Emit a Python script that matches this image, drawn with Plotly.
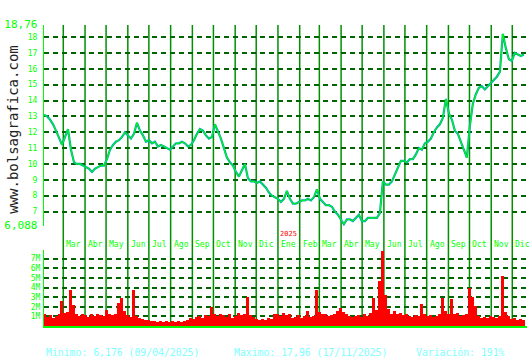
import numpy as np
import pandas as pd
import plotly.graph_objects as go

# ---------------- data ----------------
price = [
    13.1, 13.0, 12.8, 12.5, 12.1, 11.7, 11.2, 11.7, 12.2, 10.9,
    10.1, 10.0, 10.0, 9.9, 9.8, 9.7, 9.5, 9.7, 9.8, 9.9,
    9.9, 10.3, 10.9, 11.2, 11.4, 11.5, 11.7, 12.0, 11.8, 11.6,
    11.9, 12.6, 12.1, 11.8, 11.4, 11.5, 11.3, 11.4, 11.1, 11.2,
    11.1, 11.0, 10.9, 11.1, 11.3, 11.3, 11.4, 11.3, 11.1, 11.2,
    11.5, 11.9, 12.2, 12.1, 11.8, 11.6, 11.7, 12.5, 12.1, 11.6,
    11.0, 10.4, 10.1, 9.9, 9.5, 9.2, 9.6, 10.0, 9.1, 8.9,
    8.9, 8.8, 8.9, 8.7, 8.5, 8.2, 8.0, 7.9, 7.8, 7.6,
    7.8, 8.3, 7.8, 7.5, 7.5, 7.6, 7.7, 7.7, 7.8, 7.7,
    7.9, 8.4, 7.8, 7.6, 7.4, 7.4, 7.3, 7.0, 6.8, 6.5,
    6.2, 6.5, 6.5, 6.4, 6.6, 6.8, 6.4, 6.4, 6.6, 6.6,
    6.6, 6.6, 6.9, 8.9, 8.7, 8.7, 8.9, 9.3, 9.8, 10.2,
    10.2, 10.1, 10.3, 10.3, 10.6, 11.0, 10.9, 11.3, 11.4, 11.6,
    12.0, 12.3, 12.5, 12.9, 14.1, 13.2, 12.8, 12.1, 11.9, 11.4,
    10.9, 10.4, 12.4, 13.8, 14.4, 14.8, 14.9, 14.7, 14.9, 15.1,
    15.3, 15.5, 15.8, 18.2, 17.3, 16.6, 16.5, 17.0, 16.9, 16.8,
    16.9,
]

volume_m = [
    1.2, 0.9, 1.1, 0.8, 1.0, 1.3, 2.6, 1.4, 1.5, 3.7,
    2.2, 1.2, 1.0, 1.3, 1.1, 0.9, 1.2, 1.0, 1.3, 1.1,
    1.0, 1.7, 1.2, 1.1, 1.3, 2.4, 2.9, 1.6, 1.1, 0.9,
    3.7, 1.0, 0.8, 0.7, 0.6, 0.6, 0.5, 0.5, 0.4, 0.5,
    0.4, 0.5, 0.4, 0.5, 0.4, 0.5, 0.4, 0.5, 0.6, 0.8,
    0.7, 0.9, 1.0, 0.8, 1.1, 1.0, 2.0, 1.2, 1.0, 1.3,
    1.1, 0.9, 1.2, 0.8, 1.0, 1.4, 1.1, 1.2, 3.0, 1.1,
    0.9, 0.7, 0.6, 0.7, 0.6, 0.8, 0.7, 1.2, 1.3, 1.0,
    1.4, 1.1, 1.2, 0.8, 0.9, 1.1, 0.8, 1.0, 1.6, 0.9,
    1.0, 3.7, 1.5, 1.2, 1.3, 1.0, 1.1, 1.2, 1.6, 1.9,
    1.5, 1.3, 1.0, 0.9, 1.0, 1.1, 0.9, 1.2, 1.0, 1.4,
    2.9, 1.7, 4.7, 7.8, 3.2, 1.8, 1.3, 1.6, 1.2, 1.4,
    1.1, 1.3, 1.0, 0.9, 1.1, 1.0, 2.3, 1.2, 1.0, 1.1,
    0.9, 1.0, 1.2, 2.9, 1.6, 1.3, 2.8, 1.2, 1.4, 1.0,
    1.1, 1.3, 3.9, 3.0, 2.1, 1.0, 0.8, 0.9, 0.8, 1.0,
    0.9, 0.8, 1.0, 5.2, 1.5, 1.0, 0.7, 0.8, 0.6, 0.7,
    0.6,
]

months = ["Mar", "Abr", "May", "Jun", "Jul", "Ago", "Sep", "Oct", "Nov", "Dic",
          "Ene", "Feb", "Mar", "Abr", "May", "Jun", "Jul", "Ago", "Sep", "Oct",
          "Nov", "Dic"]
year_label = "2025"
price_ticks = [6.088, 7, 8, 9, 10, 11, 12, 13, 14, 15, 16, 17, 18, 18.76]
price_ticktext = ["6,088", "7", "8", "9", "10", "11", "12", "13", "14", "15",
                  "16", "17", "18", "18,76"]
vol_ticks = [1, 2, 3, 4, 5, 6, 7]
vol_ticktext = ["1M", "2M", "3M", "4M", "5M", "6M", "7M"]
stats = ["Minimo: 6,176 (09/04/2025)", "Maximo: 17,96 (17/11/2025)", "Variación: 191%"]
watermark = "www.bolsagrafica.com"

# ---------------- sampling dates ----------------
start = pd.Timestamp("2024-02-02 12:00")
step_h = 102.6  # one sample every ~4.3 days
dates_p = start + pd.to_timedelta(np.arange(len(price)) * step_h, unit="h")
dates_v = start + pd.to_timedelta(np.arange(len(volume_m)) * step_h, unit="h")
month_starts = pd.date_range("2024-03-01", periods=len(months), freq="MS")
x_range = ["2024-02-02 12:00", "2025-12-22"]

GREEN = "#00ff00"
GRID_H = "#006400"
GRID_V = "#009000"
FONT = "DejaVu Sans Mono"

fig = go.Figure()
fig.add_trace(go.Scatter(x=dates_p, y=price, mode="lines",
                         line=dict(color="#00a8b4", width=2.2), xaxis="x", yaxis="y",
                         hoverinfo="skip"))
fig.add_trace(go.Scatter(x=dates_p, y=price, mode="lines",
                         line=dict(color="#00ff00", width=1.0), xaxis="x", yaxis="y"))
fig.add_trace(go.Bar(x=dates_v, y=volume_m, marker=dict(color="#ff0000", line=dict(width=0)),
                     width=step_h * 3600 * 1000, xaxis="x2", yaxis="y2"))

shapes = []
for d in month_starts:
    shapes.append(dict(type="line", xref="x", yref="paper", x0=d, x1=d, y0=0, y1=1,
                       line=dict(color=GRID_V, width=1.5), layer="below"))

annotations = []
for d, m in zip(month_starts, months):
    annotations.append(dict(x=d, xref="x", y=0.2708, yref="paper", text=m,
                            showarrow=False, xanchor="left", yanchor="middle", xshift=1,
                            font=dict(family=FONT, size=8, color=GREEN)))
annotations.append(dict(x=pd.Timestamp("2025-01-01"), xref="x", y=0.304, yref="paper",
                        text=year_label, showarrow=False, xanchor="left", yanchor="middle",
                        xshift=0, font=dict(family=FONT, size=7, color="#ff0000")))
for xp, s in zip([0.0, 0.3886, 0.7667], stats):
    annotations.append(dict(x=xp, xref="paper", y=-0.0864, yref="paper", text=s,
                            showarrow=False, xanchor="left", yanchor="middle",
                            font=dict(family=FONT, size=9.8, color="#80ffff")))
annotations.append(dict(x=-0.0642, xref="paper", y=0.655, yref="paper", text=watermark,
                        showarrow=False, textangle=-90, xanchor="center", yanchor="middle",
                        font=dict(family=FONT, size=14, color="#222222")))

ptext = []
for v, t in zip(price_ticks, price_ticktext):
    if "," in t:
        ptext.append("<span style='font-size:11px'>" + t + "</span>")
    else:
        ptext.append(t)

fig.update_layout(
    width=530, height=360,
    margin=dict(l=44, r=3, t=25, b=34),
    paper_bgcolor="white", plot_bgcolor="white",
    showlegend=False, bargap=0,
    shapes=shapes, annotations=annotations,
    xaxis=dict(domain=[0, 1], range=x_range, type="date", anchor="y",
               showticklabels=False, showgrid=False, zeroline=False, showline=False),
    xaxis2=dict(domain=[0, 1], range=x_range, type="date", anchor="y2",
                showticklabels=False, showgrid=False, zeroline=False,
                showline=True, linecolor=GREEN, linewidth=1.5),
    yaxis=dict(domain=[0.3322, 1], range=[6.088, 18.76], anchor="x",
               tickvals=price_ticks, ticktext=ptext, ticks="",
               ticklabelstandoff=4,
               tickfont=dict(family=FONT, size=8, color=GREEN),
               showgrid=True, gridcolor=GRID_H, gridwidth=1.5, griddash="5px,4px",
               zeroline=False, showline=True, linecolor=GREEN, linewidth=1),
    yaxis2=dict(domain=[0, 0.2525], range=[0, 7.9], anchor="x2",
                tickvals=vol_ticks, ticktext=vol_ticktext, ticks="",
                ticklabelstandoff=1,
                tickfont=dict(family=FONT, size=8, color=GREEN),
                showgrid=True, gridcolor=GRID_H, gridwidth=1.5, griddash="5px,4px",
                zeroline=False, showline=True, linecolor=GREEN, linewidth=1),
)

fig.write_html("out.html")
